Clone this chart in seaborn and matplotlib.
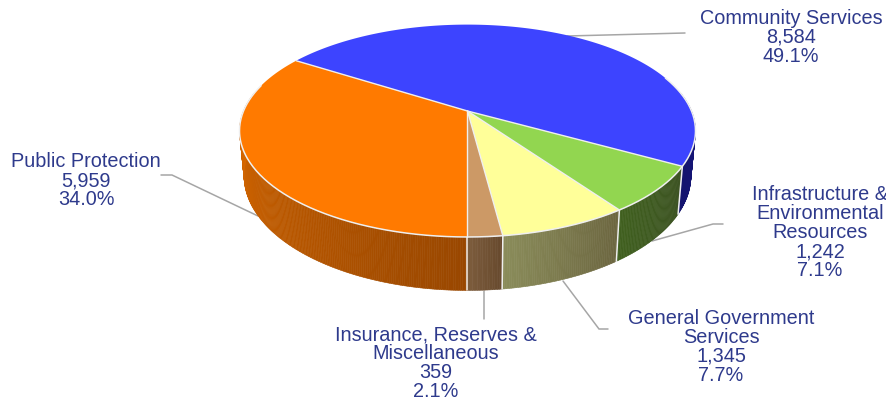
import numpy as np
import matplotlib
matplotlib.use("Agg")
import matplotlib.pyplot as plt
import seaborn as sns
from matplotlib.patches import Polygon

# --- data ---
CATEGORIES = ["Insurance, Reserves &\nMiscellaneous", "General Government\nServices",
              "Infrastructure &\nEnvironmental\nResources", "Community Services", "Public Protection"]
VALUES = [359, 1345, 1242, 8584, 5959]
PERCENTS = ["2.1%", "7.7%", "7.1%", "49.1%", "34.0%"]

TOP_COLORS = ["#CC9966", "#FFFF99", "#92D650", "#3D44FF", "#FF7A00"]
# side wall shading, left to right
SIDE_COLORS = [("#7C5C3C", "#684A2E"), ("#8A8C5A", "#6C6640"), ("#40601F", "#3C5222"),
               ("#14146E", "#14147A"), ("#994700", "#E06C00")]
TEXT_COLOR = "#2E3A8C"
LEADER_COLOR = "#A6A6A6"
EDGE_COLOR = "#EFEFEF"

# --- pie projection, pixels ---
VX, VY = 467.5, 112.0   # where the slices meet
RX, RY = 224.0, 102.5
PERSP = 0.1864
DROP = 43.5
SHRINK = 0.98

LABEL_POS = [(436, 363.5), (721, 347), (820, 232.5), (791, 37), (86, 181)]
LEADERS = [[(484, 292), (484, 320)],
           [(563, 282), (599, 330), (608, 330)],
           [(652, 242), (713, 225), (723, 225)],
           [(567, 37), (685, 34)],
           [(258, 217), (172, 176), (161, 176)]]


def top_xy(a):
    a = np.radians(a)
    d = 1 + PERSP * np.sin(a)
    return VX + RX * np.cos(a) / d, VY - RY * np.sin(a) / d


def bottom_xy(a):
    a = np.radians(a)
    d = 1 + PERSP * np.sin(a)
    return VX + SHRINK * RX * np.cos(a) / d, VY - RY * np.sin(a) / d + DROP / d


def draw_side(ax, a0, a1, colors):
    # narrow quads so the wall gets a gradient
    n = max(int(abs(a1 - a0) * 2), 2)
    angles = np.linspace(a0, a1, n + 1)
    shades = sns.blend_palette(colors, n)
    for i in range(n):
        pair = angles[i:i + 2]
        tx, ty = top_xy(pair)
        bx, by = bottom_xy(pair)
        pts = np.column_stack([np.r_[tx, bx[::-1]], np.r_[ty, by[::-1]]])
        ax.add_patch(Polygon(pts, closed=True, fc=shades[i], ec=shades[i], lw=0.4, zorder=2))


sns.set_theme(style="white")
plt.rcParams["font.family"] = ["Liberation Sans", "DejaVu Sans"]

fig = plt.figure(figsize=(8.86, 4.10), dpi=100)
ax = fig.add_axes([0, 0, 1, 1])
ax.set_xlim(0, 886)
ax.set_ylim(410, 0)
ax.axis("off")

shares = np.array(VALUES) / sum(VALUES) * 360
edges = -90 + np.r_[0, np.cumsum(shares)]
order_angles = list(zip(edges[:-1], edges[1:]))

# leaders go under the pie
for pts in LEADERS:
    xs, ys = zip(*pts)
    ax.plot(xs, ys, color=LEADER_COLOR, lw=1.1, zorder=1, solid_joinstyle="miter")

# side walls, only the part facing us
for (a0, a1), cols in zip(order_angles, SIDE_COLORS):
    if a0 > 90:   # last slice wraps around the left
        draw_side(ax, a1 - 360, a0 - 360 if a0 - 360 > -190 else -190, cols[::1])
    else:
        draw_side(ax, a0, min(a1, 10), cols)

# slice borders on the wall
for a in edges[:-1]:
    tx, ty = top_xy(a)
    bx, by = bottom_xy(a)
    ax.plot([tx, bx], [ty, by], color=EDGE_COLOR, lw=1.1, zorder=3)

# top faces
for (a0, a1), col in zip(order_angles, TOP_COLORS):
    arc = np.linspace(a0, a1, 200)
    x, y = top_xy(arc)
    pts = np.column_stack([np.r_[VX, x], np.r_[VY, y]])
    ax.add_patch(Polygon(pts, closed=True, fc=col, ec="none", zorder=4))

# rim and radial lines
rim = np.linspace(-195, 20, 300)
ax.plot(*top_xy(rim), color=EDGE_COLOR, lw=1.1, zorder=5)
for a in edges[:-1]:
    tx, ty = top_xy(a)
    ax.plot([VX, tx], [VY, ty], color=EDGE_COLOR, lw=1.0, zorder=5)

for name, val, pct, (x, y) in zip(CATEGORIES, VALUES, PERCENTS, LABEL_POS):
    ax.text(x, y, f"{name}\n{val:,}\n{pct}", ha="center", va="center", multialignment="center",
            color=TEXT_COLOR, fontsize=14.3, linespacing=1.0, zorder=6)

fig.savefig("out.png", dpi=100)
